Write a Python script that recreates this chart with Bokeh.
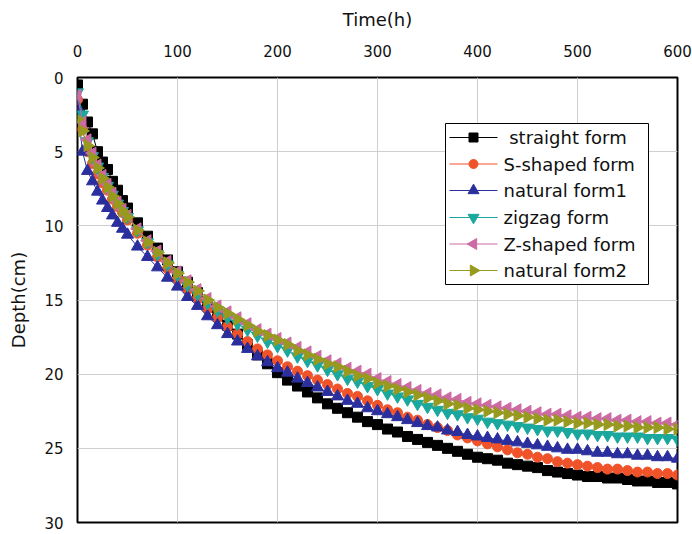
import math
from bokeh.plotting import figure
from bokeh.models import Range1d
from bokeh.core.properties import value
from bokeh.embed import file_html
from bokeh.resources import INLINE

# Sampling times (h)
time_h = [0, 5, 10, 15, 20, 25, 30, 35, 40, 45, 50,
          60, 70, 80, 90, 100, 110, 120, 130, 140, 150,
          160, 170, 180, 190, 200, 210, 220, 230, 240, 250,
          260, 270, 280, 290, 300, 310, 320, 330, 340, 350,
          360, 370, 380, 390, 400, 410, 420, 430, 440, 450,
          460, 470, 480, 490, 500, 510, 520, 530, 540, 550,
          560, 570, 580, 590, 600]

# Wetting-front depth (cm) for each root form
straight_form = [0.5, 1.8, 3.0, 3.8, 5.0, 5.7, 6.2, 7.0, 7.6, 8.3, 8.8,
                 9.8, 10.7, 11.5, 12.3, 13.1, 13.8, 14.5, 15.3, 16.0, 16.7,
                 17.3, 18.0, 18.7, 19.3, 19.9, 20.4, 20.8, 21.2, 21.6, 22.0,
                 22.3, 22.6, 22.9, 23.2, 23.4, 23.7, 23.9, 24.2, 24.4, 24.6,
                 24.8, 25.0, 25.2, 25.4, 25.6, 25.7, 25.8, 26.0, 26.1, 26.2,
                 26.3, 26.5, 26.6, 26.7, 26.8, 26.9, 26.9, 27.0, 27.0, 27.1,
                 27.2, 27.2, 27.3, 27.3, 27.4]
s_shaped_form = [1.5, 3.5, 5.0, 5.8, 6.5, 7.1, 7.6, 8.2, 8.7, 9.1, 9.6,
                 10.5, 11.3, 12.1, 12.9, 13.6, 14.3, 14.9, 15.6, 16.2, 16.8,
                 17.3, 17.8, 18.3, 18.7, 19.1, 19.5, 19.8, 20.1, 20.4, 20.7,
                 21.0, 21.3, 21.5, 21.8, 22.1, 22.4, 22.6, 22.9, 23.1, 23.4,
                 23.6, 23.8, 24.1, 24.3, 24.5, 24.7, 24.9, 25.1, 25.3, 25.4,
                 25.6, 25.7, 25.9, 26.0, 26.1, 26.2, 26.3, 26.4, 26.4, 26.5,
                 26.6, 26.6, 26.7, 26.7, 26.8]
natural_form1 = [2.0, 5.0, 6.3, 7.0, 7.7, 8.3, 8.8, 9.3, 9.8, 10.2, 10.6,
                 11.4, 12.1, 12.8, 13.5, 14.1, 14.8, 15.4, 16.1, 16.7, 17.3,
                 17.8, 18.3, 18.8, 19.2, 19.6, 19.9, 20.3, 20.6, 20.9, 21.2,
                 21.5, 21.8, 22.0, 22.3, 22.5, 22.7, 22.9, 23.1, 23.3, 23.5,
                 23.6, 23.8, 23.9, 24.1, 24.2, 24.3, 24.4, 24.5, 24.6, 24.7,
                 24.8, 24.9, 25.0, 25.1, 25.1, 25.2, 25.3, 25.3, 25.4, 25.4,
                 25.5, 25.5, 25.6, 25.6, 25.7]
zigzag_form = [1.0, 2.5, 4.3, 5.3, 6.0, 6.7, 7.3, 7.9, 8.5, 9.0, 9.4,
               10.3, 11.1, 11.9, 12.6, 13.3, 14.0, 14.6, 15.2, 15.7, 16.2,
               16.6, 17.0, 17.4, 17.8, 18.1, 18.4, 18.8, 19.1, 19.4, 19.7,
               20.0, 20.3, 20.5, 20.8, 21.0, 21.3, 21.5, 21.7, 22.0, 22.2,
               22.4, 22.6, 22.7, 22.9, 23.0, 23.2, 23.3, 23.4, 23.5, 23.6,
               23.7, 23.8, 23.8, 23.9, 24.0, 24.0, 24.1, 24.1, 24.2, 24.2,
               24.2, 24.3, 24.3, 24.3, 24.4]
z_shaped_form = [1.2, 3.0, 4.2, 5.1, 5.9, 6.6, 7.2, 7.8, 8.4, 8.9, 9.3,
                 10.2, 11.0, 11.7, 12.4, 13.1, 13.7, 14.3, 14.9, 15.4, 15.8,
                 16.2, 16.6, 17.0, 17.3, 17.6, 17.9, 18.2, 18.5, 18.8, 19.1,
                 19.3, 19.6, 19.8, 20.0, 20.3, 20.5, 20.7, 20.9, 21.1, 21.3,
                 21.4, 21.6, 21.7, 21.9, 22.0, 22.1, 22.2, 22.3, 22.4, 22.5,
                 22.6, 22.7, 22.7, 22.8, 22.9, 22.9, 23.0, 23.0, 23.1, 23.1,
                 23.2, 23.2, 23.3, 23.3, 23.4]
natural_form2 = [2.8, 3.6, 4.6, 5.4, 6.1, 6.8, 7.4, 8.0, 8.5, 9.0, 9.4,
                 10.3, 11.1, 11.8, 12.5, 13.2, 13.8, 14.4, 15.0, 15.5, 15.9,
                 16.3, 16.7, 17.1, 17.4, 17.7, 18.0, 18.4, 18.7, 19.0, 19.3,
                 19.5, 19.8, 20.1, 20.3, 20.6, 20.8, 21.0, 21.2, 21.4, 21.6,
                 21.8, 22.0, 22.1, 22.3, 22.4, 22.5, 22.6, 22.7, 22.8, 22.9,
                 23.0, 23.1, 23.1, 23.2, 23.3, 23.3, 23.4, 23.4, 23.5, 23.5,
                 23.6, 23.6, 23.6, 23.7, 23.7]

x_ticks = [0, 100, 200, 300, 400, 500, 600]
y_ticks = [0, 5, 10, 15, 20, 25, 30]

FONT = "DejaVu Sans"
FRAME_W, FRAME_H = 600, 445

p = figure(width=692, height=534, output_backend="svg", toolbar_location=None,
           x_axis_location="above", x_range=Range1d(0, 600), y_range=Range1d(30, 0))
p.min_border_left = 77
p.min_border_right = 15
p.min_border_top = 77
p.min_border_bottom = 12
p.background_fill_color = "white"
p.border_fill_color = "white"
p.outline_line_color = "black"
p.outline_line_width = 2

# pixel-space ranges over the frame, used to lay out the key box
p.extra_x_ranges = {"px": Range1d(0, FRAME_W)}
p.extra_y_ranges = {"px": Range1d(FRAME_H, 0)}

p.xaxis.ticker = x_ticks
p.yaxis.ticker = y_ticks
p.xaxis.axis_label = "Time(h)"
p.yaxis.axis_label = "Depth(cm)"
for ax in (p.xaxis, p.yaxis):
    ax.axis_line_color = None
    ax.major_tick_line_color = None
    ax.minor_tick_line_color = None
    ax.major_label_text_font = FONT
    ax.major_label_text_font_size = "15px"
    ax.major_label_text_color = "#111111"
    ax.axis_label_text_font = FONT
    ax.axis_label_text_font_size = "18px"
    ax.axis_label_text_font_style = "normal"
    ax.axis_label_text_color = "#111111"
p.xaxis.major_label_standoff = 15
p.xaxis.axis_label_standoff = 12
p.yaxis.major_label_standoff = 8
p.yaxis.axis_label_standoff = 12

p.xgrid.ticker = x_ticks
p.ygrid.ticker = y_ticks
p.grid.grid_line_color = "#cfcfcf"
p.grid.grid_line_width = 1

series = [
    ("\u00a0straight form", straight_form, "#000000", "square", 0.0, 10),
    ("S-shaped form", s_shaped_form, "#f0532a", "circle", 0.0, 10),
    ("natural form1", natural_form1, "#2b2f9d", "triangle", 0.0, 12),
    ("zigzag form", zigzag_form, "#1aa89e", "inverted_triangle", 0.0, 12),
    ("Z-shaped form", z_shaped_form, "#cc6aa4", "triangle", math.pi / 2, 12),
    ("natural form2", natural_form2, "#979a1e", "triangle", -math.pi / 2, 12),
]

for label, depth, color, marker, ang, size in series:
    p.line(time_h, depth, line_color=color, line_width=1)
    p.scatter(time_h, depth, marker=marker, angle=ang, size=size,
              fill_color=color, line_color=color)

# key box, drawn in frame pixels so the rotated markers keep their direction
box_l, box_r, box_t, box_b = 368, 571, 46, 207
row_y = [60, 86.5, 113, 140, 166.5, 193]
line_x0, line_x1, text_x = 372, 420, 426
p.quad(left=[box_l], right=[box_r], top=[box_t], bottom=[box_b],
       fill_color="white", line_color="black", line_width=1,
       x_range_name="px", y_range_name="px")
for (label, depth, color, marker, ang, size), ry in zip(series, row_y):
    p.segment(x0=[line_x0], y0=[ry], x1=[line_x1], y1=[ry], line_color=color,
              line_width=1, x_range_name="px", y_range_name="px")
    p.scatter(x=[(line_x0 + line_x1) / 2], y=[ry], marker=marker, angle=ang,
              size=size - 1, fill_color=color, line_color=color,
              x_range_name="px", y_range_name="px")
    p.text(x=[text_x], y=[ry], text=[label], text_font=value(FONT),
           text_font_size="18px", text_color="#111111",
           text_baseline="middle", text_align="left",
           x_range_name="px", y_range_name="px")

open("out.html", "w").write(file_html(p, INLINE))
